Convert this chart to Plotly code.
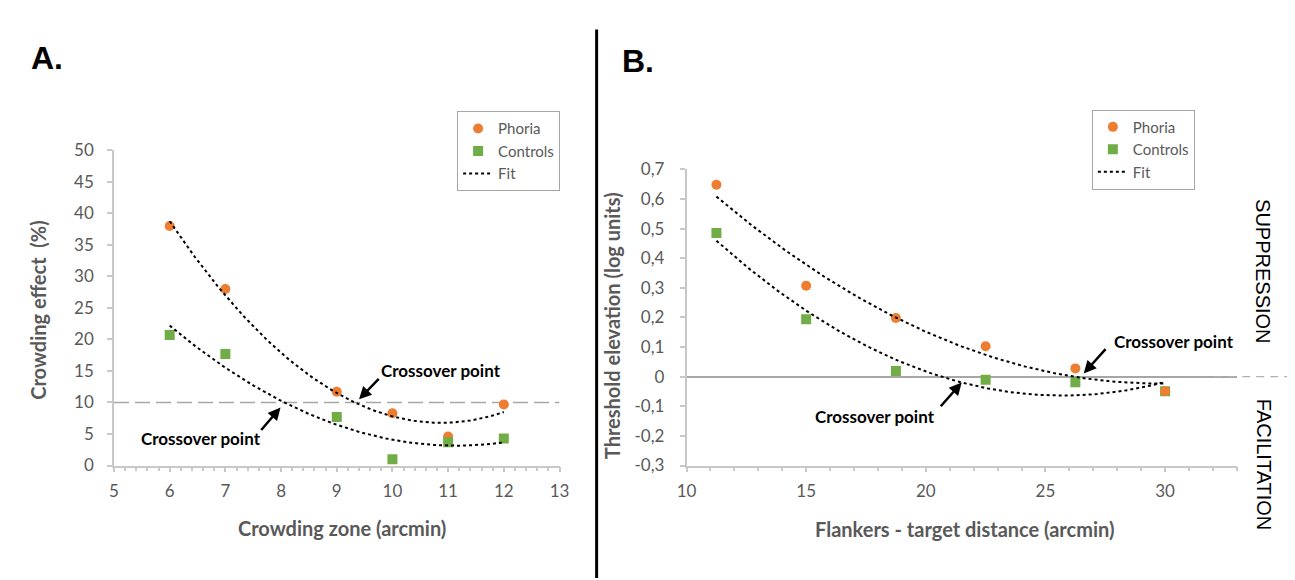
import numpy as np
import plotly.graph_objects as go

# ---------------- data ----------------
# Panel A
a_x = [6, 7, 9, 10, 11, 12]
a_phoria = [38.0, 28.0, 11.7, 8.3, 4.6, 9.7]
a_controls = [20.7, 17.7, 7.7, 1.0, 3.7, 4.3]
a_yticks = [0, 5, 10, 15, 20, 25, 30, 35, 40, 45, 50]
a_xticks = [5, 6, 7, 8, 9, 10, 11, 12, 13]
a_ref_level = 10

# Panel B
b_x = [11.25, 15, 18.75, 22.5, 26.25, 30]
b_phoria = [0.648, 0.307, 0.198, 0.103, 0.028, -0.049]
b_controls = [0.485, 0.194, 0.019, -0.010, -0.019, -0.049]
b_yticks = [-0.3, -0.2, -0.1, 0, 0.1, 0.2, 0.3, 0.4, 0.5, 0.6, 0.7]
b_yticktext = ["-0,3", "-0,2", "-0,1", "0", "0,1", "0,2", "0,3", "0,4", "0,5", "0,6", "0,7"]
b_xticks = [10, 15, 20, 25, 30]

ORANGE = "#ED7D31"
GREEN = "#70AD47"
GREY_TXT = "#595959"
AXIS_COL = "#C8C8C8"
FONT = "Lato"


def quad_fit(x, y, n=120):
    c = np.polyfit(x, y, 2)
    xs = np.linspace(min(x), max(x), n)
    return xs, np.polyval(c, xs)


fig = go.Figure()

# ---- Panel A traces ----
fig.add_trace(go.Scatter(x=a_x, y=a_phoria, mode="markers", name="Phoria",
                         marker=dict(color=ORANGE, size=10, symbol="circle"),
                         xaxis="x", yaxis="y", legend="legend", legendrank=1))
fig.add_trace(go.Scatter(x=a_x, y=a_controls, mode="markers", name="Controls",
                         marker=dict(color=GREEN, size=10, symbol="square"),
                         xaxis="x", yaxis="y", legend="legend", legendrank=2))
for i, ys in enumerate([a_phoria, a_controls]):
    fx, fy = quad_fit(a_x, ys)
    fig.add_trace(go.Scatter(x=fx, y=fy, mode="lines", name="Fit",
                             line=dict(color="black", width=2, dash="dot"),
                             showlegend=(i == 0), xaxis="x", yaxis="y",
                             legend="legend", legendrank=3))

# ---- Panel B traces ----
fig.add_trace(go.Scatter(x=b_x, y=b_controls, mode="markers", name="Controls",
                         marker=dict(color=GREEN, size=10, symbol="square"),
                         xaxis="x2", yaxis="y2", legend="legend2", legendrank=2))
fig.add_trace(go.Scatter(x=b_x, y=b_phoria, mode="markers", name="Phoria",
                         marker=dict(color=ORANGE, size=10, symbol="circle"),
                         xaxis="x2", yaxis="y2", legend="legend2", legendrank=1))
for i, ys in enumerate([b_phoria, b_controls]):
    fx, fy = quad_fit(b_x, ys)
    fig.add_trace(go.Scatter(x=fx, y=fy, mode="lines", name="Fit",
                             line=dict(color="black", width=2, dash="dot"),
                             showlegend=(i == 0), xaxis="x2", yaxis="y2",
                             legend="legend2", legendrank=3))

W, H = 1295, 580
ax_dom_x = [97.5 / W, 550 / W]
ax_dom_y = [1 - 463.3 / H, 1 - 136.3 / H]
bx_dom_x = [679 / W, 1238 / W]
bx_dom_y = [1 - 463.3 / H, 1 - 156 / H]

tickfont = dict(family=FONT, size=17, color=GREY_TXT)

common_axis = dict(showgrid=False, showline=True, linecolor=AXIS_COL, linewidth=1.5,
                   tickcolor=AXIS_COL, tickwidth=1.5, fixedrange=True)

fig.update_layout(
    width=W, height=H,
    margin=dict(l=0, r=0, t=0, b=0),
    paper_bgcolor="white", plot_bgcolor="white",
    font=dict(family=FONT, color=GREY_TXT),
    xaxis=dict(domain=ax_dom_x, anchor="y", range=[5, 13], tickmode="array",
               tickvals=a_xticks, ticks="outside", ticklen=5, tickfont=tickfont,
               ticklabelstandoff=4,
               minor=dict(dtick=0.2, tick0=5, ticks="outside", ticklen=4,
                          tickcolor=AXIS_COL, tickwidth=1.5),
               zeroline=False, **common_axis),
    yaxis=dict(domain=ax_dom_y, anchor="x", range=[0, 50], tickmode="array",
               tickvals=a_yticks, ticks="outside", ticklen=5, tickfont=tickfont,
               ticklabelstandoff=10, zeroline=False, **common_axis),
    xaxis3=dict(overlaying="x", anchor="y", range=[5, 13], tickmode="array",
                tickvals=a_xticks, ticks="inside", ticklen=4, showticklabels=False,
                minor=dict(dtick=0.2, tick0=5, ticks="inside", ticklen=3,
                           tickcolor=AXIS_COL, tickwidth=1.5),
                showgrid=False, showline=False, zeroline=False,
                tickcolor=AXIS_COL, tickwidth=1.5),
    yaxis3=dict(overlaying="y", anchor="x", range=[0, 50], tickmode="array",
                tickvals=a_yticks, ticks="inside", ticklen=5, showticklabels=False,
                showgrid=False, showline=False, zeroline=False,
                tickcolor=AXIS_COL, tickwidth=1.5),
    xaxis2=dict(domain=bx_dom_x, anchor="y2", range=[10, 33], tickmode="array",
                tickvals=b_xticks, ticks="outside", ticklen=5, tickfont=tickfont,
                ticklabelstandoff=4,
                minor=dict(dtick=1, tick0=10, ticks="outside", ticklen=4,
                           tickcolor=AXIS_COL, tickwidth=1.5),
                zeroline=False, **common_axis),
    yaxis2=dict(domain=bx_dom_y, anchor="x2", range=[-0.3, 0.7], tickmode="array",
                tickvals=b_yticks, ticktext=b_yticktext, ticks="outside", ticklen=5,
                tickfont=tickfont, ticklabelstandoff=12,
                zeroline=True, zerolinecolor="#A6A6A6", zerolinewidth=1.5,
                **common_axis),
    xaxis4=dict(overlaying="x2", anchor="y2", range=[10, 33], tickmode="array",
                tickvals=b_xticks, ticks="inside", ticklen=5, showticklabels=False,
                minor=dict(dtick=1, tick0=10, ticks="inside", ticklen=4,
                           tickcolor=AXIS_COL, tickwidth=1.5),
                showgrid=False, showline=False, zeroline=False,
                tickcolor=AXIS_COL, tickwidth=1.5),
    yaxis4=dict(overlaying="y2", anchor="x2", range=[-0.3, 0.7], tickmode="array",
                tickvals=b_yticks, ticks="inside", ticklen=5, showticklabels=False,
                showgrid=False, showline=False, zeroline=False,
                tickcolor=AXIS_COL, tickwidth=1.5),
    legend=dict(x=446 / W, y=1 - 95.7 / H, xanchor="left", yanchor="top",
                bgcolor="white", bordercolor="#A6A6A6", borderwidth=1,
                font=dict(family=FONT, size=15, color=GREY_TXT), itemwidth=30),
    legend2=dict(x=1090.7 / W, y=1 - 94 / H, xanchor="left", yanchor="top",
                 bgcolor="white", bordercolor="#A6A6A6", borderwidth=1,
                 font=dict(family=FONT, size=15, color=GREY_TXT), itemwidth=30),
    showlegend=True,
)

# reference dashed line at 10 (panel A)
fig.add_shape(type="line", xref="x", yref="y", x0=5, x1=13,
              y0=a_ref_level, y1=a_ref_level,
              line=dict(color="#A6A6A6", width=1.5, dash="15px,6px"), layer="below")
# dashed continuation of zero line (panel B)
fig.add_shape(type="line", xref="paper", yref="y2", x0=1215 / W, x1=1.0, y0=0, y1=0,
              line=dict(color="#B0B0B0", width=1.2, dash="8px,6px"))
# vertical divider
fig.add_shape(type="line", xref="paper", yref="paper", x0=587.7 / W, x1=587.7 / W,
              y0=0, y1=1 - 11 / H, line=dict(color="black", width=3))

ann_bold = dict(family=FONT, size=17, color="black", weight="bold")
title_font = dict(family=FONT, size=20, color=GREY_TXT, weight="bold")
side_font = dict(family="Liberation Sans", size=20, color="black")
lab_font = dict(family="Liberation Sans", size=32, color="black")


def pa(text, px, py, **kw):
    d = dict(text=text, x=px / W, y=1 - py / H, xref="paper", yref="paper",
             xanchor="center", yanchor="middle", showarrow=False)
    d.update(kw)
    return d


def txt(text, x, y, xr, yr):
    return dict(text=text, x=x, y=y, xref=xr, yref=yr, xanchor="center",
                yanchor="middle", showarrow=False, font=ann_bold)


def arrow(x, y, ax, ay, xr, yr):
    return dict(text="", x=x, y=y, ax=ax, ay=ay, xref=xr, yref=yr, axref=xr, ayref=yr,
                showarrow=True, arrowhead=2, arrowsize=1, arrowwidth=2.5,
                arrowcolor="black")


annotations = [
    pa("<b>A.</b>", 11, 40, xanchor="left", font=lab_font),
    pa("<b>B.</b>", 611, 43.5, xanchor="left", font=lab_font),
    pa("Crowding effect  (%)", 20, 302, textangle=-90, font=title_font),
    pa("Crowding zone (arcmin)", 329, 528, font=title_font),
    pa("Threshold elevation (log units)", 604, 318, textangle=-90, font=title_font),
    pa("Flankers - target distance (arcmin)", 961, 529, font=title_font),
    pa("SUPPRESSION", 1265, 262, textangle=90, font=side_font),
    pa("FACILITATION", 1265, 463, textangle=90, font=side_font),
    txt("Crossover point", 10.87, 15.0, "x", "y"),
    txt("Crossover point", 6.56, 4.33, "x", "y"),
    txt("Crossover point", 30.37, 0.12, "x2", "y2"),
    txt("Crossover point", 17.87, -0.135, "x2", "y2"),
    arrow(9.4, 10.5, 9.78, 14.0, "x", "y"),
    arrow(7.99, 9.2, 7.62, 5.4, "x", "y"),
    arrow(26.6, 0.011, 27.57, 0.098, "x2", "y2"),
    arrow(21.5, -0.02, 20.57, -0.105, "x2", "y2"),
]
fig.update_layout(annotations=annotations)

fig.write_html("out.html")
